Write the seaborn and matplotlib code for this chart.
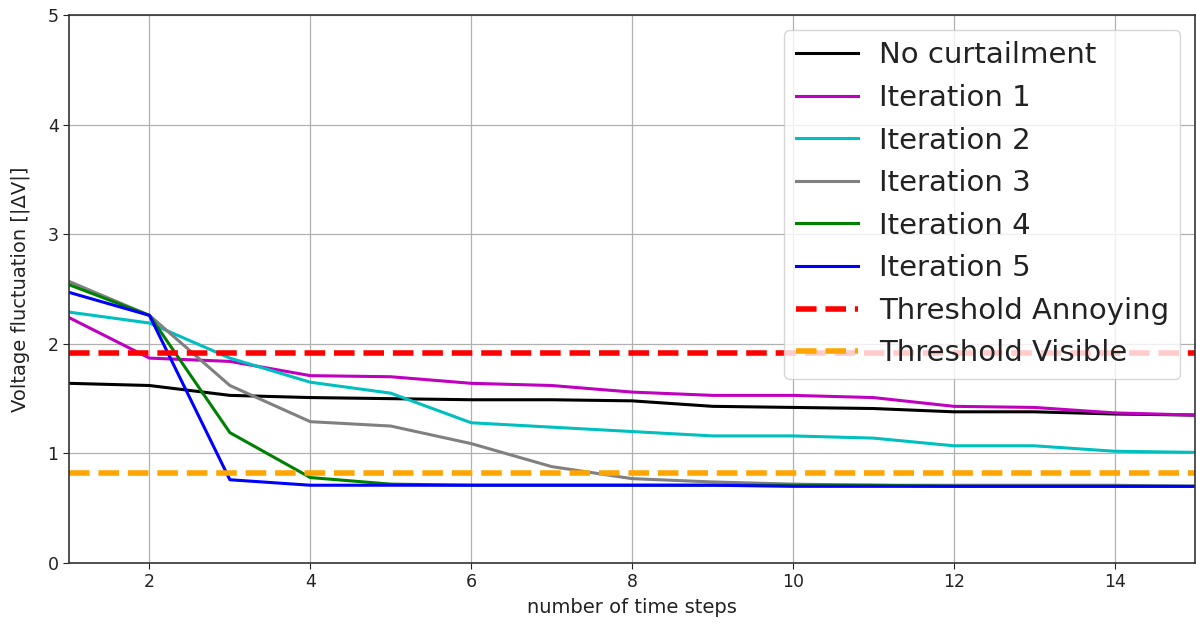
import numpy as np
import pandas as pd
import matplotlib
matplotlib.use("Agg")
import matplotlib.pyplot as plt
import seaborn as sns

# Time steps on the x axis
steps = list(range(1, 16))

# Voltage fluctuation per scenario
no_curtailment = [1.64, 1.62, 1.53, 1.51, 1.50, 1.49, 1.49, 1.48, 1.43, 1.42, 1.41, 1.38, 1.38, 1.36, 1.35]
iteration_1 = [2.24, 1.87, 1.84, 1.71, 1.70, 1.64, 1.62, 1.56, 1.53, 1.53, 1.51, 1.43, 1.42, 1.37, 1.35]
iteration_2 = [2.29, 2.19, 1.87, 1.65, 1.55, 1.28, 1.24, 1.20, 1.16, 1.16, 1.14, 1.07, 1.07, 1.02, 1.01]
iteration_3 = [2.57, 2.26, 1.62, 1.29, 1.25, 1.09, 0.88, 0.77, 0.74, 0.72, 0.71, 0.71, 0.71, 0.71, 0.70]
iteration_4 = [2.54, 2.26, 1.19, 0.78, 0.72, 0.71, 0.71, 0.71, 0.71, 0.71, 0.71, 0.70, 0.70, 0.70, 0.70]
iteration_5 = [2.47, 2.26, 0.76, 0.71, 0.71, 0.71, 0.71, 0.71, 0.71, 0.70, 0.70, 0.70, 0.70, 0.70, 0.70]

series_names = ["No curtailment", "Iteration 1", "Iteration 2",
                "Iteration 3", "Iteration 4", "Iteration 5"]
series_values = [no_curtailment, iteration_1, iteration_2,
                 iteration_3, iteration_4, iteration_5]
series_colors = ["k", "m", "c", "gray", "g", "b"]

threshold_annoying = 1.92
threshold_visible = 0.82

df = pd.DataFrame({
    "step": np.tile(steps, len(series_names)),
    "value": np.concatenate(series_values),
    "series": np.repeat(series_names, len(steps)),
})

fig = plt.figure(figsize=(11.96, 6.30), dpi=100)
ax = fig.add_axes([0.0577, 0.1063, 0.9415, 0.8697])

sns.lineplot(data=df, x="step", y="value", hue="series",
             hue_order=series_names,
             palette=dict(zip(series_names, series_colors)),
             linewidth=2.2, ax=ax, legend=False)

ax.axhline(threshold_annoying, color="r", linestyle="--", linewidth=4)
ax.axhline(threshold_visible, color="orange", linestyle="--", linewidth=4)

ax.set_xlim(1, 15)
ax.set_ylim(0, 5)
ax.set_xticks([2, 4, 6, 8, 10, 12, 14])
ax.set_yticks([0, 1, 2, 3, 4, 5])
ax.grid(True, color="#b0b0b0", linewidth=0.9)
ax.tick_params(labelsize=12.5, colors="#222222", length=4)
ax.set_xlabel("number of time steps", fontsize=14, color="#222222", labelpad=5)
ax.set_ylabel("Voltage fluctuation [|ΔV|]", fontsize=14, color="#222222", labelpad=13)
for sp in ax.spines.values():
    sp.set_color("#333333")
    sp.set_linewidth(1.2)

labels = series_names + ["Threshold Annoying", "Threshold Visible"]
leg = ax.legend(ax.get_lines()[:len(labels)], labels, loc="upper right",
                fontsize=21, framealpha=0.8, borderaxespad=0.5,
                handlelength=2.15, handletextpad=0.7, labelspacing=0.5)
for t in leg.get_texts():
    t.set_color("#222222")

fig.savefig("out.png", dpi=100)
